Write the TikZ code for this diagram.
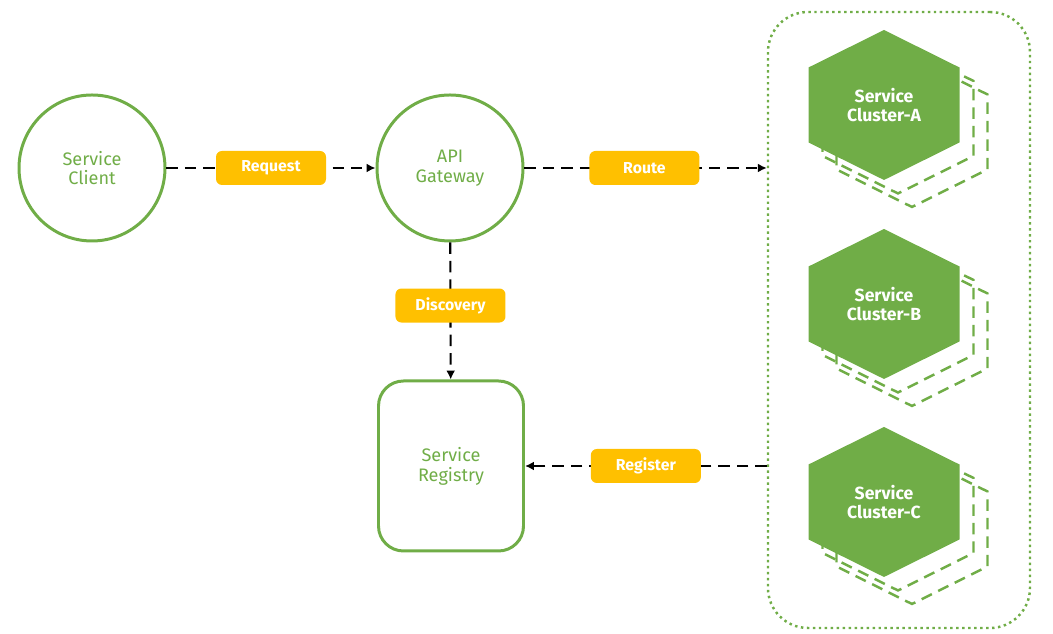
\documentclass[tikz,border=0pt]{standalone}
\usepackage{fontspec}
\setmainfont{Fira Sans}
\usetikzlibrary{arrows.meta}
\definecolor{leaf}{HTML}{70AD47}
\definecolor{amber}{HTML}{FFC000}
\newcommand{\hexshape}{(0,1.5) -- (1.51,0.75) -- (1.51,-0.75) -- (0,-1.5) -- (-1.51,-0.75) -- (-1.51,0.75) -- cycle}

\begin{document}
\begin{tikzpicture}[
    every node/.style={font=\fontsize{10.3}{11.3}\selectfont, align=center},
    roundnode/.style={draw=leaf, line width=1.7pt, circle, minimum size=2.92cm, text=leaf},
    boxnode/.style={draw=leaf, line width=1.7pt, rounded corners=0.5cm, minimum width=2.9cm, minimum height=3.4cm, text=leaf},
    tag/.style={fill=amber, rounded corners=0.12cm, minimum width=2.2cm, minimum height=0.68cm, text=white, font=\fontsize{9}{11}\selectfont\bfseries},
    link/.style={line width=1.5pt, dash pattern=on 6.5pt off 4pt, -{Latex[length=5pt,width=5pt]}},
    ghost/.style={draw=leaf, line width=1.4pt, dash pattern=on 6.5pt off 4pt},
    ]
    \useasboundingbox (0,0) rectangle (21.06,12.68);

    \node[roundnode] (client) at (1.84,9.32) {Service\\Client};
    \node[roundnode] (gateway) at (9.0,9.32) {API\\Gateway};
    \node[boxnode] (registry) at (9.02,3.36) {Service\\Registry};

    \node[draw=leaf, line width=1.4pt, dotted, rounded corners=0.8cm, minimum width=5.24cm, minimum height=12.32cm] (cloud) at (17.98,6.28) {};

    \foreach \c/\y in {A/10.58, B/6.6, C/2.64} {
        \foreach \d in {2,1} {
            \draw[ghost, shift={({17.68+0.28*\d},{\y-0.27*\d})}] \hexshape;
        }
        \fill[leaf, shift={(17.68,\y)}] \hexshape;
        \node[text=white, font=\fontsize{10}{11.3}\selectfont\bfseries] (cl\c) at (17.68,\y) {Service\\Cluster-\c};
    }

    \draw[link] (client) -- (gateway) node[tag, pos=0.5] (req) {Request};
    \draw[link] (gateway.east) -- (gateway -| cloud.west) node[tag, pos=0.495] (route) {Route};
    \draw[link, line width=1.2pt] (gateway) -- (registry) node[tag, pos=0.46] (disc) {Discovery};
    \draw[link] (registry -| cloud.west) -- (registry.east) node[tag, pos=0.5] (reg) {Register};

\end{tikzpicture}
\end{document}
